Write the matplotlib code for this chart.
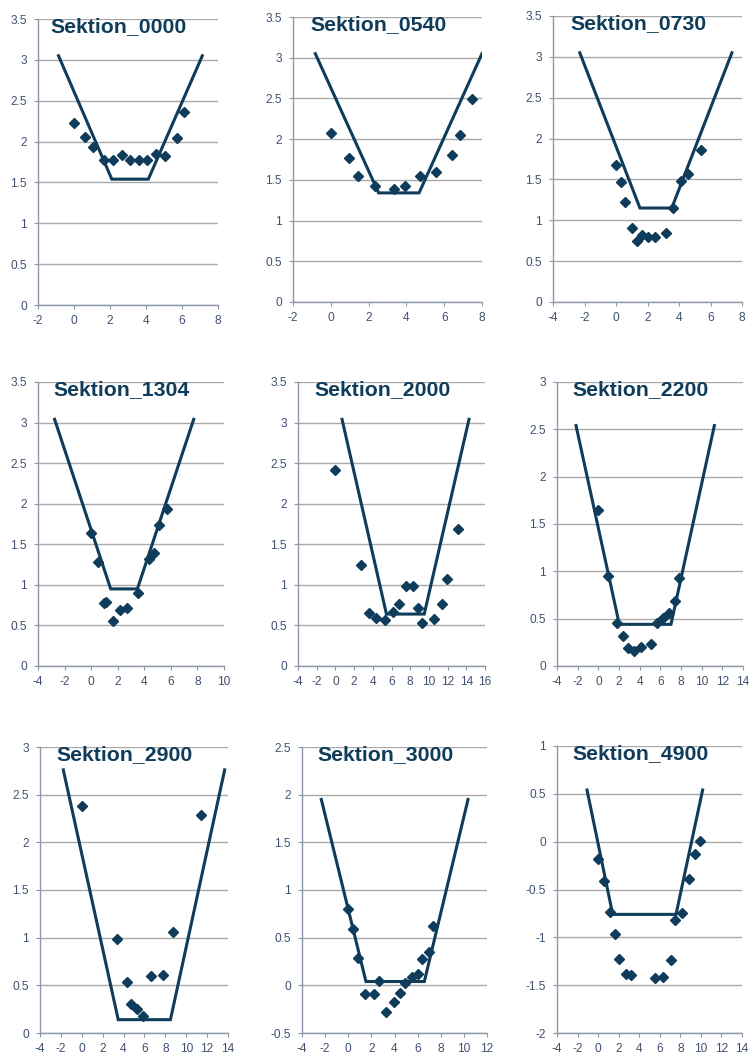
import numpy as np
import matplotlib
matplotlib.use("Agg")
from matplotlib import pyplot as plt
from matplotlib.ticker import FuncFormatter

plt.rcParams['font.family'] = ['Liberation Sans', 'DejaVu Sans']

# section names
sections = ["Sektion_0000", "Sektion_0540", "Sektion_0730",
            "Sektion_1304", "Sektion_2000", "Sektion_2200",
            "Sektion_2900", "Sektion_3000", "Sektion_4900"]

# design profile (trapezoid) per section
bed_x_0000 = [-0.86, 2.10, 4.13, 7.13]
bed_y_0000 = [3.05, 1.54, 1.54, 3.05]
bed_x_0540 = [-0.82, 2.53, 4.67, 8.0]
bed_y_0540 = [3.05, 1.34, 1.34, 3.05]
bed_x_0730 = [-2.30, 1.52, 3.54, 7.36]
bed_y_0730 = [3.05, 1.15, 1.15, 3.05]
bed_x_1304 = [-2.75, 1.47, 3.48, 7.72]
bed_y_1304 = [3.04, 0.95, 0.95, 3.04]
bed_x_2000 = [0.71, 5.46, 9.5, 14.29]
bed_y_2000 = [3.04, 0.64, 0.64, 3.04]
bed_x_2200 = [-2.16, 2.03, 7.03, 11.23]
bed_y_2200 = [2.54, 0.44, 0.44, 2.54]
bed_x_2900 = [-1.77, 3.49, 8.49, 13.68]
bed_y_2900 = [2.76, 0.14, 0.14, 2.76]
bed_x_3000 = [-2.33, 1.53, 6.58, 10.36]
bed_y_3000 = [1.95, 0.04, 0.04, 1.95]
bed_x_4900 = [-1.08, 1.42, 7.58, 10.17]
bed_y_4900 = [0.54, -0.76, -0.76, 0.54]

# measured points per section
pt_x_0000 = [0, 0.62, 1.08, 1.69, 2.19, 2.65, 3.11, 3.63, 4.03, 4.53, 5.08, 5.73, 6.12]
pt_y_0000 = [2.23, 2.06, 1.93, 1.78, 1.77, 1.83, 1.77, 1.78, 1.77, 1.85, 1.82, 2.04, 2.36]
pt_x_0540 = [0, 0.96, 1.46, 2.34, 3.34, 3.94, 4.70, 5.55, 6.41, 6.82, 7.49]
pt_y_0540 = [2.08, 1.77, 1.55, 1.43, 1.39, 1.43, 1.55, 1.60, 1.80, 2.05, 2.49]
pt_x_0730 = [0, 0.29, 0.57, 0.99, 1.31, 1.63, 2.01, 2.50, 3.20, 3.65, 4.11, 4.56, 5.41]
pt_y_0730 = [1.68, 1.47, 1.22, 0.90, 0.75, 0.82, 0.80, 0.80, 0.85, 1.15, 1.48, 1.57, 1.86]
pt_x_1304 = [0, 0.52, 0.97, 1.14, 1.64, 2.20, 2.72, 3.53, 4.35, 4.71, 5.11, 5.73]
pt_y_1304 = [1.64, 1.28, 0.78, 0.79, 0.56, 0.69, 0.71, 0.90, 1.32, 1.39, 1.74, 1.93]
pt_x_2000 = [0, 2.71, 3.61, 4.39, 5.29, 6.18, 6.79, 7.5, 8.32, 8.86, 9.21, 10.54, 11.43, 11.89, 13.14]
pt_y_2000 = [2.42, 1.25, 0.65, 0.59, 0.57, 0.66, 0.76, 0.99, 0.99, 0.71, 0.53, 0.58, 0.77, 1.07, 1.69]
pt_x_2200 = [0, 0.94, 1.81, 2.35, 2.84, 3.48, 4.16, 5.10, 5.68, 6.29, 6.87, 7.45, 7.84]
pt_y_2200 = [1.65, 0.95, 0.45, 0.32, 0.19, 0.16, 0.20, 0.23, 0.45, 0.51, 0.56, 0.69, 0.93]
pt_x_2900 = [0, 3.33, 4.35, 4.76, 5.33, 5.88, 6.67, 7.79, 8.74, 11.45]
pt_y_2900 = [2.38, 0.99, 0.54, 0.30, 0.25, 0.18, 0.60, 0.61, 1.06, 2.29]
pt_x_3000 = [0, 0.38, 0.81, 1.48, 2.20, 2.69, 3.26, 3.93, 4.50, 4.94, 5.51, 6.03, 6.41, 7.01, 7.33]
pt_y_3000 = [0.80, 0.59, 0.29, -0.09, -0.09, 0.05, -0.28, -0.18, -0.08, 0.02, 0.09, 0.12, 0.28, 0.35, 0.62]
pt_x_4900 = [0, 0.59, 1.12, 1.61, 2.0, 2.71, 3.20, 5.50, 6.28, 7.09, 7.51, 8.16, 8.81, 9.39, 9.95]
pt_y_4900 = [-0.18, -0.41, -0.74, -0.96, -1.23, -1.38, -1.39, -1.43, -1.41, -1.24, -0.82, -0.75, -0.39, -0.13, 0.01]

bed_x = [bed_x_0000, bed_x_0540, bed_x_0730, bed_x_1304, bed_x_2000, bed_x_2200, bed_x_2900, bed_x_3000, bed_x_4900]
bed_y = [bed_y_0000, bed_y_0540, bed_y_0730, bed_y_1304, bed_y_2000, bed_y_2200, bed_y_2900, bed_y_3000, bed_y_4900]
pt_x = [pt_x_0000, pt_x_0540, pt_x_0730, pt_x_1304, pt_x_2000, pt_x_2200, pt_x_2900, pt_x_3000, pt_x_4900]
pt_y = [pt_y_0000, pt_y_0540, pt_y_0730, pt_y_1304, pt_y_2000, pt_y_2200, pt_y_2900, pt_y_3000, pt_y_4900]

# axis ranges
x_ranges = [(-2, 8), (-2, 8), (-4, 8), (-4, 10), (-4, 16), (-4, 14), (-4, 14), (-4, 12), (-4, 14)]
y_ranges = [(0, 3.5), (0, 3.5), (0, 3.5), (0, 3.5), (0, 3.5), (0, 3), (0, 3), (-0.5, 2.5), (-2, 1)]

# axes boxes in pixels: left, right, top, bottom
boxes = [(38, 218, 19, 305), (293, 482, 17, 302), (553, 742, 16, 302),
         (38, 224, 382, 666), (298, 485, 382, 666), (557, 743, 382, 666),
         (40, 228, 747, 1033), (302, 487, 747, 1033), (557, 742, 746, 1033)]

W, H = 749, 1057
navy = '#0e3c5a'
grid_c = '#a9a9a9'
spine_c = '#8c98aa'
label_c = '#3f5170'

fig = plt.figure(figsize=(W / 100, H / 100), dpi=100)
fmt = FuncFormatter(lambda v, p: '{:g}'.format(round(v, 2)))

for i in range(9):
    l, r, t, b = boxes[i]
    ax = fig.add_axes([l / W, (H - b) / H, (r - l) / W, (b - t) / H])
    ax.plot(bed_x[i], bed_y[i], color=navy, lw=2.2, solid_joinstyle='miter', zorder=3)
    ax.plot(pt_x[i], pt_y[i], ls='none', marker='D', ms=5, color=navy, zorder=4)

    x0, x1 = x_ranges[i]
    y0, y1 = y_ranges[i]
    ax.set_xlim(x0, x1)
    ax.set_ylim(y0, y1)
    ax.set_xticks(np.arange(x0, x1 + 0.01, 2))
    ax.set_yticks(np.arange(y0, y1 + 0.01, 0.5))
    ax.xaxis.set_major_formatter(fmt)
    ax.yaxis.set_major_formatter(fmt)

    ax.grid(axis='y', color=grid_c, lw=1)
    ax.set_axisbelow(True)
    for s in ['top', 'right']:
        ax.spines[s].set_visible(False)
    for s in ['left', 'bottom']:
        ax.spines[s].set_color(spine_c)
        ax.spines[s].set_linewidth(1)
    ax.tick_params(direction='out', length=3, width=0.8, color=spine_c,
                   labelsize=8.6, labelcolor=label_c)
    ax.tick_params(axis='x', pad=4)
    ax.tick_params(axis='y', pad=5)

    ax.annotate(sections[i], xy=(0.5, 1), xycoords='axes fraction',
                xytext=(-6.5, -9.3), textcoords='offset points',
                ha='center', va='baseline', fontsize=15.3, fontweight='bold',
                color=navy)

fig.savefig('out.png', dpi=100)
